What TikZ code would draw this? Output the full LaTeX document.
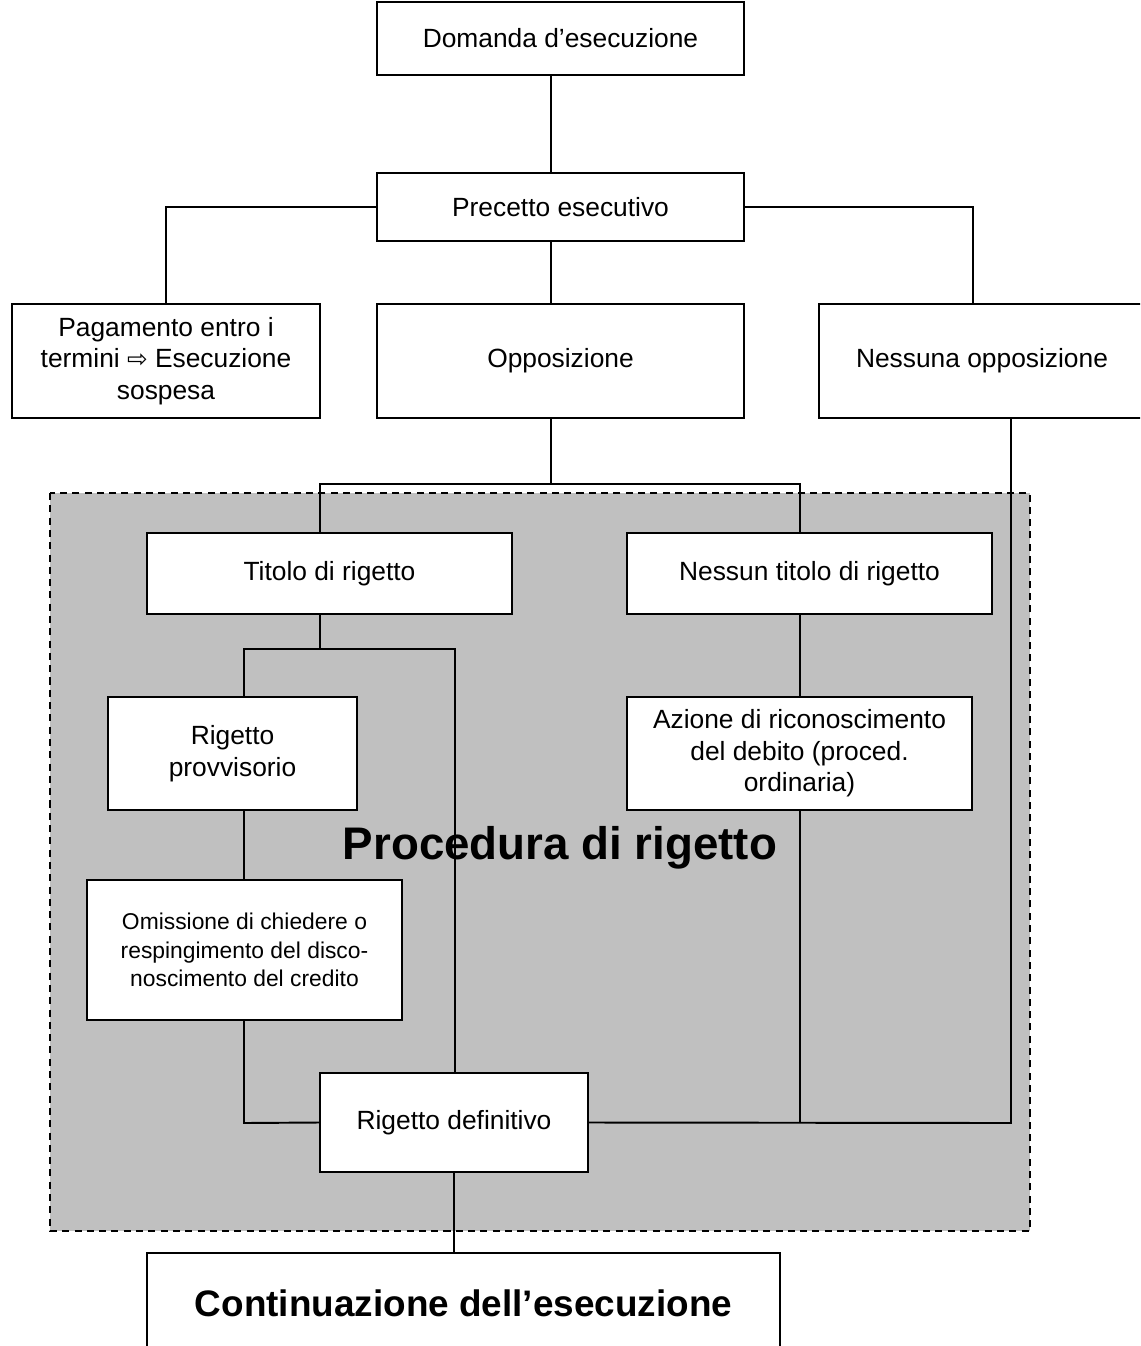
\documentclass[tikz,border=0pt]{standalone}
\usepackage{fontspec}
\setmainfont{Liberation Sans}
\newfontfamily\arrowfont{DejaVu Sans}
\definecolor{procgray}{RGB}{192,192,192}
\tikzset{
    box/.style={draw, fill=white, line width=1.1pt, inner sep=0pt, align=center,
        font=\fontsize{15}{18}\selectfont},
    link/.style={line width=1.1pt}
}

\begin{document}
\begin{tikzpicture}[x=0.02cm, y=-0.02cm]
    \useasboundingbox (0,0) rectangle (1140,1346);
    \clip (0,0) rectangle (1140,1346);

    % Gray area of the rejection procedure
    \draw[fill=procgray, line width=1pt, dash pattern=on 4pt off 3pt] (50,493) rectangle (1030,1231);
    \node[font=\fontsize{26}{30}\bfseries] (proc) at (560,848) {Procedura di rigetto};

    % Boxes
    \node[box, minimum width=7.34cm, minimum height=1.46cm] (dom) at (560.5,38.5) {Domanda d’esecuzione};
    \node[box, minimum width=7.34cm, minimum height=1.36cm] (prec) at (560.5,207) {Precetto esecutivo};
    \node[box, minimum width=6.16cm, minimum height=2.28cm] (pag) at (166,361)
        {Pagamento entro i\\ termini {\arrowfont\fontsize{14}{18}\selectfont ⇨} Esecuzione\\ sospesa};
    \node[box, minimum width=7.34cm, minimum height=2.28cm] (opp) at (560.5,361) {Opposizione};
    \node[box, minimum width=6.52cm, minimum height=2.28cm] (nopp) at (982,361) {Nessuna opposizione};
    \node[box, minimum width=7.3cm, minimum height=1.62cm] (tit) at (329.5,573.5) {Titolo di rigetto};
    \node[box, minimum width=7.3cm, minimum height=1.62cm] (ntit) at (809.5,573.5) {Nessun titolo di rigetto};
    \node[box, minimum width=4.98cm, minimum height=2.26cm] (prov) at (232.5,753.5) {Rigetto\\ provvisorio};
    \node[box, minimum width=6.9cm, minimum height=2.26cm] (az) at (799.5,753.5)
        {Azione di riconoscimento\\ del debito (proced.\\ ordinaria)};
    \node[box, minimum width=6.3cm, minimum height=2.8cm, font=\fontsize{13}{16.4}\selectfont] (omi) at (244.5,950)
        {Omissione di chiedere o\\ respingimento del disco-\\ noscimento del credito};
    \node[box, minimum width=5.36cm, minimum height=1.98cm] (defi) at (454,1122.5) {Rigetto definitivo};
    \node[box, minimum width=12.66cm, minimum height=2cm, font=\fontsize{21}{25}\bfseries] (cont) at (463.5,1303)
        {Continuazione dell’esecuzione};

    % Trunk and branch points
    \coordinate (trunk) at (551,0);
    \coordinate (rbranch) at (973,207);
    \coordinate (split) at (551,484);
    \coordinate (lsplit) at (320,484);
    \coordinate (rsplit) at (800,484);
    \coordinate (tsplit) at (320,649);
    \coordinate (psplit) at (244,649);
    \coordinate (dsplit) at (455,649);
    \coordinate (join) at (244,1123);
    \coordinate (azjoin) at (800,1123);
    \coordinate (njoin) at (1011,1123);

    % Connectors
    \draw[link] (dom.south -| trunk) -- (prec.north -| trunk);
    \draw[link] (prec.west) -- (pag.north |- prec.west) -- (pag.north);
    \draw[link] (prec.east) -- (rbranch) -- (rbranch |- nopp.north);
    \draw[link] (prec.south -| trunk) -- (opp.north -| trunk);
    \draw[link] (opp.south -| trunk) -- (split);
    \draw[link] (lsplit |- tit.north) -- (lsplit) -- (rsplit) -- (rsplit |- ntit.north);
    \draw[link] (tit.south -| tsplit) -- (tsplit);
    \draw[link] (psplit |- prov.north) -- (psplit) -- (dsplit) -- (dsplit |- defi.north);
    \draw[link] (prov.south -| psplit) -- (omi.north -| psplit);
    \draw[link] (omi.south -| join) -- (join) -- (defi.west);
    \draw[link] (ntit.south -| azjoin) -- (az.north -| azjoin);
    \draw[link] (az.south -| azjoin) -- (azjoin);
    \draw[link] (defi.east) -- (njoin) -- (njoin |- nopp.south);
    \draw[link] (defi.south) -- (cont.north -| defi.south);
\end{tikzpicture}
\end{document}
